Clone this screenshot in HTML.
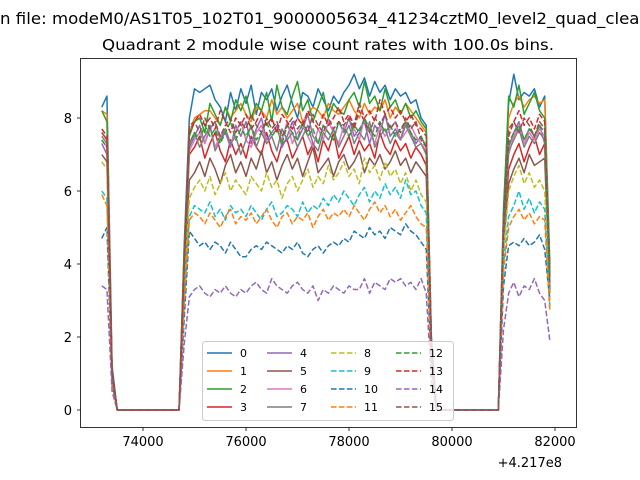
<!DOCTYPE html>
<html><head><meta charset="utf-8"><style>
html,body{margin:0;padding:0;background:#fff;}
svg{display:block;font-family:"DejaVu Sans","Liberation Sans",sans-serif;}
</style></head><body>
<svg id="chart" width="640" height="480" viewBox="0 0 640 480" xmlns="http://www.w3.org/2000/svg">
<rect width="640" height="480" fill="#fff"/>
<text x="0" y="24" font-size="16" textLength="650" lengthAdjust="spacingAndGlyphs">n file: modeM0/AS1T05_102T01_9000005634_41234cztM0_level2_quad_clean</text>
<text x="328" y="50" font-size="15" text-anchor="middle" textLength="452" lengthAdjust="spacingAndGlyphs">Quadrant 2 module wise count rates with 100.0s bins.</text>
<g id="plot"></g>
<g id="axes"></g>
<g id="legend"></g>
</svg>
<script>
const t0 = 73200, dt = 100;
const xTicks = [74000, 76000, 78000, 80000, 82000];
const xTickLabels = ["74000", "76000", "78000", "80000", "82000"];
const yTicks = [0, 2, 4, 6, 8];
const yTickLabels = ["0", "2", "4", "6", "8"];
const seriesNames = ["0","1","2","3","4","5","6","7","8","9","10","11","12","13","14","15"];
const s0=[8.3,8.6,1.2,0,0,0,0,0,0,0,0,0,0,0,0,0,4.5,8.0,8.8,8.7,8.8,8.9,8.5,8.3,7.9,8.7,8.2,8.8,8.4,8.9,8.1,8.7,8.5,8.8,8.2,8.6,8.9,8.4,8.0,8.7,8.6,8.3,8.8,8.5,8.2,8.6,8.4,8.7,8.9,9.2,8.8,9.1,8.6,9.0,8.7,8.9,8.5,8.8,8.6,8.7,8.4,8.5,8.0,7.8,2.0,0,0,0,0,0,0,0,0,0,0,0,0,0,5.5,8.4,9.2,8.5,8.7,8.6,8.8,8.3,8.6,4.0];
const s1=[8.2,8.1,1.0,0,0,0,0,0,0,0,0,0,0,0,0,0,4.2,7.6,8.0,8.1,8.2,8.2,8.0,7.8,8.3,8.0,8.2,8.4,8.1,7.9,8.3,8.2,8.0,8.5,8.1,8.3,8.0,8.2,8.4,7.9,8.1,8.3,8.2,8.0,8.4,8.2,8.1,8.3,8.5,8.2,8.0,8.4,8.1,8.3,8.2,8.5,8.0,8.3,8.1,8.4,8.2,8.0,7.8,7.6,1.8,0,0,0,0,0,0,0,0,0,0,0,0,0,5.2,8.0,8.4,8.6,8.3,8.5,8.6,8.4,8.5,3.6];
const s2=[8.2,7.9,1.0,0,0,0,0,0,0,0,0,0,0,0,0,0,4.4,7.5,7.9,8.0,7.6,8.4,8.1,7.8,8.3,7.9,8.5,8.2,8.6,8.0,8.4,8.2,8.7,7.9,8.9,8.3,8.1,8.6,9.0,8.2,8.5,7.9,8.3,8.7,8.0,8.4,8.2,8.1,8.5,8.7,8.3,9.0,8.4,8.6,8.2,8.8,8.3,8.5,8.1,8.4,8.0,8.2,7.9,7.7,1.9,0,0,0,0,0,0,0,0,0,0,0,0,0,5.3,8.6,8.3,8.9,8.1,8.4,8.7,8.2,8.0,3.8];
const s3=[7.6,7.4,1.0,0,0,0,0,0,0,0,0,0,0,0,0,0,3.8,7.0,7.2,7.5,6.9,7.3,7.6,7.1,6.8,7.4,7.0,7.3,6.9,7.5,7.2,7.0,7.6,7.1,6.8,7.3,7.4,6.9,7.2,7.5,7.0,7.3,6.8,7.4,7.1,7.6,6.9,7.2,7.5,7.0,7.4,7.1,7.3,6.9,7.6,7.2,7.0,7.4,7.1,7.3,6.9,7.2,7.0,6.7,1.7,0,0,0,0,0,0,0,0,0,0,0,0,0,4.8,6.6,7.0,7.3,6.8,7.2,7.5,7.0,7.3,3.3];
const s4=[7.3,7.0,1.0,0,0,0,0,0,0,0,0,0,0,0,0,0,3.9,7.2,7.5,7.8,7.3,7.7,7.9,7.4,7.6,7.2,7.8,7.5,7.9,7.3,7.7,8.0,7.4,7.6,7.8,7.2,7.5,7.9,7.4,7.7,8.1,7.5,7.3,7.8,7.6,7.4,7.9,7.6,8.0,7.5,7.7,7.9,7.3,7.8,7.6,8.1,7.5,7.7,7.4,7.9,7.6,7.3,7.5,7.2,1.8,0,0,0,0,0,0,0,0,0,0,0,0,0,5.0,7.2,7.6,7.9,7.4,7.7,7.5,7.8,7.3,3.4];
const s5=[7.0,6.8,0.9,0,0,0,0,0,0,0,0,0,0,0,0,0,3.5,6.3,6.5,6.8,6.4,6.9,6.6,6.2,6.7,7.0,6.5,6.8,6.4,6.9,6.6,7.1,6.5,6.8,6.3,6.7,7.0,6.6,6.9,6.4,6.8,7.2,6.5,6.7,6.9,6.4,6.8,7.0,6.6,6.8,7.1,6.5,6.9,6.7,7.0,6.6,6.8,7.1,6.7,6.9,6.5,6.8,6.6,6.4,1.6,0,0,0,0,0,0,0,0,0,0,0,0,0,4.5,6.2,6.6,6.9,6.5,7.0,6.7,6.8,6.9,3.2];
const s6=[7.4,7.2,1.0,0,0,0,0,0,0,0,0,0,0,0,0,0,3.9,7.1,7.4,7.6,7.3,7.8,7.2,7.5,7.7,7.3,7.6,7.9,7.4,7.2,7.6,7.8,7.3,7.5,7.7,7.4,7.9,7.3,7.6,7.8,7.5,7.2,7.7,7.4,7.9,7.6,7.3,7.8,7.5,7.7,7.4,8.0,7.6,7.3,7.8,7.5,7.7,7.9,7.4,7.6,7.8,7.5,7.3,7.1,1.8,0,0,0,0,0,0,0,0,0,0,0,0,0,5.0,7.0,7.5,7.8,7.3,7.6,7.4,7.7,7.5,3.5];
const s7=[7.5,7.3,1.0,0,0,0,0,0,0,0,0,0,0,0,0,0,3.8,7.3,7.6,7.2,7.5,7.8,7.1,7.4,7.7,7.3,7.5,7.0,7.4,7.8,7.2,7.6,7.3,7.5,7.1,7.7,7.4,7.6,7.2,7.5,7.8,7.3,7.1,7.6,7.4,7.7,7.2,7.5,7.8,7.3,7.6,7.4,7.9,7.2,7.5,7.7,7.3,7.6,7.4,7.8,7.5,7.2,7.3,7.0,1.7,0,0,0,0,0,0,0,0,0,0,0,0,0,4.9,7.1,7.4,7.7,7.2,7.5,7.3,7.6,7.4,3.4];
const s8=[6.8,6.6,0.9,0,0,0,0,0,0,0,0,0,0,0,0,0,3.3,5.8,6.1,6.3,6.0,6.4,5.9,6.2,6.5,6.0,6.3,6.1,5.9,6.4,6.2,6.0,6.5,6.1,6.3,5.8,6.2,6.4,6.0,6.3,6.6,6.1,6.4,6.2,6.7,6.3,6.5,6.8,6.4,6.6,6.2,6.9,6.5,6.7,6.3,6.8,6.4,6.6,6.2,6.5,6.0,6.3,5.9,5.7,1.5,0,0,0,0,0,0,0,0,0,0,0,0,0,4.3,6.0,6.4,6.7,6.2,6.5,6.1,6.3,6.0,3.0];
const s9=[6.0,5.8,0.8,0,0,0,0,0,0,0,0,0,0,0,0,0,3.0,5.3,5.6,5.5,5.4,5.7,5.3,5.5,5.2,5.6,5.4,5.5,5.3,5.6,5.4,5.2,5.5,5.7,5.3,5.4,5.6,5.5,5.3,5.7,5.4,5.6,5.5,5.8,5.6,5.9,5.7,6.0,5.8,5.6,5.9,6.1,5.7,6.0,5.8,6.2,5.9,6.1,5.8,6.3,5.9,6.0,5.6,5.4,1.4,0,0,0,0,0,0,0,0,0,0,0,0,0,4.0,5.3,5.6,6.0,5.5,5.8,5.4,5.7,5.5,2.8];
const s10=[4.7,5.0,0.7,0,0,0,0,0,0,0,0,0,0,0,0,0,2.5,4.9,4.7,4.5,4.6,4.4,4.6,4.5,4.3,4.6,4.4,4.2,4.2,4.4,4.5,4.4,4.6,4.5,4.4,4.3,4.5,4.4,4.6,4.3,4.2,4.4,4.5,4.3,4.5,4.6,4.5,4.7,4.6,4.9,4.8,4.7,5.0,4.8,4.9,4.7,5.0,4.9,4.8,5.1,4.9,4.8,4.6,4.4,1.2,0,0,0,0,0,0,0,0,0,0,0,0,0,3.4,4.5,4.6,4.5,4.7,4.5,4.6,4.8,4.4,3.0];
const s11=[5.9,5.6,0.8,0,0,0,0,0,0,0,0,0,0,0,0,0,2.9,5.2,5.4,5.3,5.1,5.4,5.2,5.0,5.3,5.5,5.1,5.3,5.2,5.4,5.1,5.3,5.5,5.2,5.0,5.3,5.4,5.1,5.3,5.2,5.4,5.0,5.3,5.5,5.2,5.4,5.3,5.5,5.3,5.6,5.4,5.2,5.5,5.7,5.4,5.6,5.3,5.5,5.2,5.4,5.6,5.3,5.1,5.0,1.3,0,0,0,0,0,0,0,0,0,0,0,0,0,3.8,5.0,5.3,5.5,5.2,5.4,5.1,5.3,5.2,2.7];
const s12=[7.4,7.2,1.0,0,0,0,0,0,0,0,0,0,0,0,0,0,3.9,7.3,7.6,7.4,7.8,7.5,7.7,7.3,7.6,7.9,7.4,7.7,7.5,7.8,7.4,7.6,7.9,7.5,7.7,7.3,7.8,7.6,7.4,7.9,7.5,7.7,7.3,7.8,7.6,7.4,7.9,7.7,7.5,7.8,7.6,8.0,7.7,7.5,7.9,7.6,7.8,7.5,7.7,7.9,7.6,7.4,7.5,7.2,1.8,0,0,0,0,0,0,0,0,0,0,0,0,0,5.0,7.3,7.6,7.8,7.4,7.7,7.5,7.8,7.6,3.5];
const s13=[7.7,7.5,1.0,0,0,0,0,0,0,0,0,0,0,0,0,0,4.0,7.6,7.9,8.1,7.8,8.0,7.7,8.2,7.9,7.6,8.0,7.8,8.1,7.7,7.9,8.2,7.8,8.0,7.6,8.1,7.9,7.7,8.0,7.8,8.2,7.9,7.7,8.1,7.8,8.0,8.3,7.9,8.1,7.8,8.4,8.0,8.2,7.9,8.5,8.1,8.3,8.0,8.2,7.9,8.1,7.8,7.7,7.5,1.8,0,0,0,0,0,0,0,0,0,0,0,0,0,5.1,7.5,7.9,8.2,7.8,8.0,7.7,8.1,7.9,3.6];
const s14=[3.4,3.3,0.5,0,0,0,0,0,0,0,0,0,0,0,0,0,1.8,3.1,3.3,3.4,3.2,3.1,3.3,3.2,3.4,3.2,3.1,3.3,3.2,3.4,3.5,3.3,3.2,3.6,3.4,3.3,3.2,3.4,3.5,3.3,3.2,3.4,3.0,3.3,3.2,3.4,3.3,3.2,3.4,3.3,3.3,3.6,3.2,3.5,3.4,3.3,3.6,3.5,3.6,3.4,3.5,3.3,3.6,3.2,0.8,0,0,0,0,0,0,0,0,0,0,0,0,0,2.2,3.2,3.5,3.1,3.4,3.3,3.6,3.2,3.0,1.9];
const s15=[7.6,7.4,1.0,0,0,0,0,0,0,0,0,0,0,0,0,0,4.0,7.8,7.9,7.6,8.0,7.7,7.9,7.5,7.8,8.0,7.6,7.9,7.7,8.1,7.8,7.6,8.0,7.7,7.9,7.5,7.8,8.0,7.7,7.9,7.6,8.1,7.8,7.6,8.0,7.7,7.9,7.8,8.0,7.7,8.2,7.9,7.6,8.0,7.8,8.1,7.7,7.9,7.6,8.0,7.7,7.9,7.4,7.2,1.7,0,0,0,0,0,0,0,0,0,0,0,0,0,5.0,7.7,7.9,7.6,8.0,7.8,7.5,7.9,7.7,3.5];
const allSeries=[s0,s1,s2,s3,s4,s5,s6,s7,s8,s9,s10,s11,s12,s13,s14,s15];

const NS="http://www.w3.org/2000/svg";
const colors=["#1f77b4","#ff7f0e","#2ca02c","#d62728","#9467bd","#8c564b","#e377c2","#7f7f7f","#bcbd22","#17becf"];
const L=80,R=576,T=58,B=427;
function xs(v){return 143+(v-74000)*(103/2000);}
function ys(v){return 410-v*36.5;}
function mk(tag,attrs,parent){const e=document.createElementNS(NS,tag);for(const k in attrs)e.setAttribute(k,attrs[k]);parent.appendChild(e);return e;}
const plot=document.getElementById('plot');
const axes=document.getElementById('axes');
const leg=document.getElementById('legend');
const clip=mk('clipPath',{id:'clp'},plot);
mk('rect',{x:L,y:T,width:R-L,height:B-T},clip);
allSeries.forEach((arr,si)=>{
  const pts=arr.map((v,i)=>xs(t0+i*dt).toFixed(2)+","+ys(v).toFixed(2)).join(" ");
  const p=mk('polyline',{points:pts,fill:"none",stroke:colors[si%10],"stroke-width":1.5,"clip-path":"url(#clp)","stroke-linejoin":"round"},plot);
  if(si>=8)p.setAttribute('stroke-dasharray','5.55,2.4');
  
  
});
const frame=mk('rect',{x:L+0.5,y:T+0.5,width:R-L,height:B-T,fill:"none",stroke:"#000","stroke-width":0.8},axes);


xTicks.forEach((v,i)=>{
  const x=xs(v);
  mk('line',{x1:x,x2:x,y1:B+0.5,y2:B+4,stroke:"#000","stroke-width":0.8},axes);
  const t=mk('text',{x:x,y:B+19,"font-size":13,"text-anchor":"middle"},axes);
  t.textContent=xTickLabels[i];
  
  
});
yTicks.forEach((v,i)=>{
  const y=ys(v);
  mk('line',{x1:L-3,x2:L+0.5,y1:y,y2:y,stroke:"#000","stroke-width":0.8},axes);
  const t=mk('text',{x:L-8,y:y+5,"font-size":13,"text-anchor":"end"},axes);
  t.textContent=yTickLabels[i];
  
  
});
const off=mk('text',{x:562,y:467,"font-size":13,"text-anchor":"end"},axes);
off.textContent="+4.217e8";


const lb=mk('rect',{x:202.5,y:341.5,width:251,height:79,rx:3,fill:"#fff","fill-opacity":0.8,stroke:"#ccc"},leg);


const colX=[207,267,331,396];
seriesNames.forEach((n,si)=>{
  const c=Math.floor(si/4),r=si%4;
  const x=colX[c],y=353+r*18;
  const g=mk('g',{},leg);
  
  
  const ln=mk('line',{x1:x,x2:x+25,y1:y,y2:y,stroke:colors[si%10],"stroke-width":1.5},g);
  if(si>=8)ln.setAttribute('stroke-dasharray','5.55,2.4');
  const t=mk('text',{x:x+33,y:y+4,"font-size":11},g);
  t.textContent=n;
});
</script>
</body></html>
